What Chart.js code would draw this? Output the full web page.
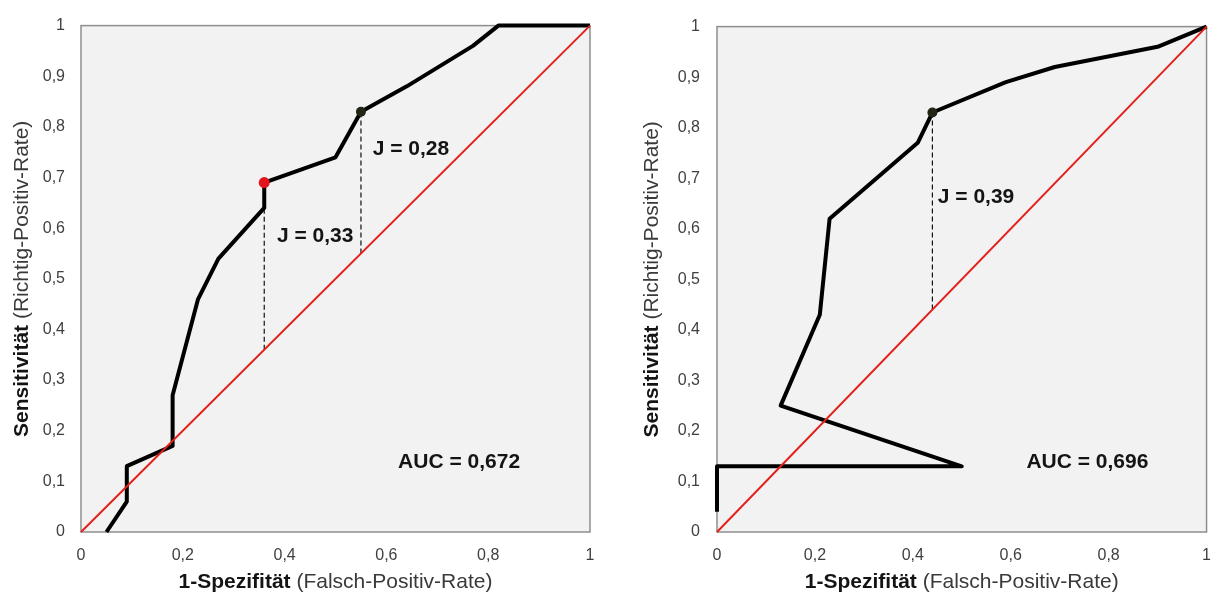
<!DOCTYPE html>
<html lang="de">
<head>
<meta charset="utf-8">
<title>ROC-Kurven</title>
<script src="https://cdn.jsdelivr.net/npm/chart.js@4.4.1/dist/chart.umd.min.js"></script>
<style>
  html, body { margin: 0; padding: 0; background: #ffffff; overflow: hidden; }
  .panel { position: absolute; top: 0; }
  #panelA { left: 0; }
  #panelB { left: 610px; }
</style>
</head>
<body>
<div class="panel" id="panelA"><canvas id="rocA" width="610" height="594"></canvas></div>
<div class="panel" id="panelB"><canvas id="rocB" width="615" height="594"></canvas></div>
<script>
// Axis tick values (both axes, both panels)
const tickValues = [0, 0.1, 0.2, 0.3, 0.4, 0.5, 0.6, 0.7, 0.8, 0.9, 1];

// Left panel: ROC curve (1-Spezifität vs. Sensitivität)
const rocA_fpr = [0.05, 0.09, 0.09, 0.18, 0.18, 0.23, 0.27, 0.36, 0.36, 0.50, 0.55, 0.64, 0.77, 0.82, 1.00];
const rocA_tpr = [0.00, 0.06, 0.13, 0.17, 0.27, 0.46, 0.54, 0.64, 0.69, 0.74, 0.83, 0.88, 0.96, 1.00, 1.00];
// Left panel: cut-off points with Youden index
const cutA_fpr = [0.36, 0.55];
const cutA_tpr = [0.69, 0.83];
const cutA_color = ['#e3141b', '#1f2614'];
const aucA = '0,672';

// Right panel: ROC curve
const rocB_fpr = [0.00, 0.00, 0.50, 0.13, 0.21, 0.23, 0.41, 0.44, 0.59, 0.69, 0.90, 1.00];
const rocB_tpr = [0.04, 0.13, 0.13, 0.25, 0.43, 0.62, 0.77, 0.83, 0.89, 0.92, 0.96, 1.00];
// Right panel: cut-off point with Youden index
const cutB_fpr = [0.44];
const cutB_tpr = [0.83];
const cutB_color = ['#1f2614'];
const aucB = '0,696';

const FONT = "'Liberation Sans', Arial, Helvetica, sans-serif";
Chart.defaults.font.family = FONT;

const fmt = v => String(+Number(v).toFixed(2)).replace('.', ',');

// Grey plot area with a frame on all four sides
const framePlugin = {
  id: 'rocFrame',
  beforeDatasetsDraw(chart) {
    const { ctx, chartArea: a } = chart;
    ctx.save();
    ctx.fillStyle = '#f2f2f2';
    ctx.fillRect(a.left, a.top, a.width, a.height);
    ctx.strokeStyle = '#8e8e8e';
    ctx.lineWidth = 1.5;
    ctx.strokeRect(a.left, a.top, a.width, a.height);
    ctx.restore();
  }
};

// Axis titles with bold/regular parts, plus J and AUC labels
const textPlugin = {
  id: 'rocText',
  afterDraw(chart, args, opts) {
    const { ctx, chartArea: a, scales } = chart;
    const bold = '700 21px ' + FONT;
    const reg = '400 21px ' + FONT;
    const drawMixed = (boldTxt, regTxt, cx, cy, rot) => {
      ctx.save();
      ctx.translate(cx, cy);
      if (rot) ctx.rotate(-Math.PI / 2);
      ctx.textBaseline = 'middle';
      ctx.textAlign = 'left';
      ctx.font = bold;
      const wb = ctx.measureText(boldTxt).width;
      ctx.font = reg;
      const wr = ctx.measureText(regTxt).width;
      const x0 = -(wb + wr) / 2;
      ctx.font = bold;
      ctx.fillStyle = '#141414';
      ctx.fillText(boldTxt, x0, 0);
      ctx.font = reg;
      ctx.fillStyle = '#3a3a3a';
      ctx.fillText(regTxt, x0 + wb, 0);
      ctx.restore();
    };
    drawMixed('1-Spezifität', ' (Falsch-Positiv-Rate)', (a.left + a.right) / 2, a.bottom + opts.xTitleOffset, false);
    drawMixed('Sensitivität', ' (Richtig-Positiv-Rate)', a.left - opts.yTitleOffset, (a.top + a.bottom) / 2, true);

    ctx.save();
    ctx.font = '700 21px ' + FONT;
    ctx.fillStyle = '#141414';
    ctx.textAlign = 'left';
    ctx.textBaseline = 'middle';
    opts.labels.forEach(l => {
      ctx.fillText(l.text, scales.x.getPixelForValue(l.at[0]), scales.y.getPixelForValue(l.at[1]));
    });
    ctx.restore();
  }
};

function buildChart(canvasId, fpr, tpr, cutFpr, cutTpr, cutColor, auc, layout) {
  const curve = fpr.map((x, i) => ({ x, y: tpr[i] }));
  const datasets = [];

  // Cut-off markers
  datasets.push({
    data: cutFpr.map((x, i) => ({ x, y: cutTpr[i] })),
    showLine: false,
    pointRadius: cutColor.map(c => c === '#e3141b' ? 5.5 : 5),
    pointBackgroundColor: cutColor,
    pointBorderColor: cutColor,
    pointBorderWidth: 0,
    order: 0,
    clip: false
  });
  // Chance diagonal
  datasets.push({
    data: [{ x: 0, y: 0 }, { x: 1, y: 1 }],
    showLine: true,
    borderColor: '#e3211c',
    borderWidth: 2,
    pointRadius: 0,
    order: 1,
    clip: false
  });
  // ROC curve
  datasets.push({
    data: curve,
    showLine: true,
    borderColor: '#000000',
    borderWidth: 4,
    borderJoinStyle: 'round',
    pointRadius: 0,
    tension: 0,
    order: 2,
    clip: false
  });
  // Youden distance: dashed verticals from the diagonal to each cut-off
  cutFpr.forEach((x, i) => {
    datasets.push({
      data: [{ x, y: x }, { x, y: cutTpr[i] }],
      showLine: true,
      borderColor: '#111111',
      borderWidth: 1.2,
      borderDash: [5, 3],
      pointRadius: 0,
      order: 3,
      clip: false
    });
  });

  const labels = cutFpr.map((x, i) => ({
    text: 'J = ' + fmt(cutTpr[i] - x).replace(/^(\d,\d)$/, '$10'),
    at: layout.jAt[i]
  }));
  labels.push({ text: 'AUC = ' + auc, at: layout.aucAt });

  return new Chart(document.getElementById(canvasId), {
    type: 'scatter',
    data: { datasets },
    plugins: [framePlugin, textPlugin],
    options: {
      responsive: false,
      animation: false,
      events: [],
      layout: { padding: { left: 0, right: layout.padRight, top: layout.padTop, bottom: 0 } },
      plugins: {
        legend: { display: false },
        tooltip: { enabled: false },
        rocText: { labels, xTitleOffset: 50, yTitleOffset: layout.yTitleOffset }
      },
      scales: {
        x: {
          type: 'linear',
          min: 0, max: 1,
          afterBuildTicks: s => { s.ticks = tickValues.filter((v, i) => i % 2 === 0).map(v => ({ value: v })); },
          afterFit: s => { s.height = 62; },
          grid: { display: false, drawTicks: false },
          border: { display: false },
          ticks: {
            padding: 14,
            color: '#404040',
            font: { size: 16 },
            maxRotation: 0,
            callback: v => fmt(v)
          }
        },
        y: {
          type: 'linear',
          min: 0, max: 1,
          afterBuildTicks: s => { s.ticks = tickValues.map(v => ({ value: v })); },
          afterFit: s => { s.width = layout.yWidth; },
          grid: { display: false, drawTicks: false },
          border: { display: false },
          ticks: {
            padding: layout.yTickPad,
            color: '#404040',
            font: { size: 16 },
            callback: v => fmt(v)
          }
        }
      }
    }
  });
}

buildChart('rocA', rocA_fpr, rocA_tpr, cutA_fpr, cutA_tpr, cutA_color, aucA, {
  padRight: 20, padTop: 20, yWidth: 81, yTickPad: 16, yTitleOffset: 59,
  jAt: [[0.385, 0.584], [0.573, 0.756]],
  aucAt: [0.623, 0.137]
});

buildChart('rocB', rocB_fpr, rocB_tpr, cutB_fpr, cutB_tpr, cutB_color, aucB, {
  padRight: 8, padTop: 19, yWidth: 107, yTickPad: 17, yTitleOffset: 65,
  jAt: [[0.451, 0.663]],
  aucAt: [0.632, 0.139]
});
</script>
</body>
</html>
